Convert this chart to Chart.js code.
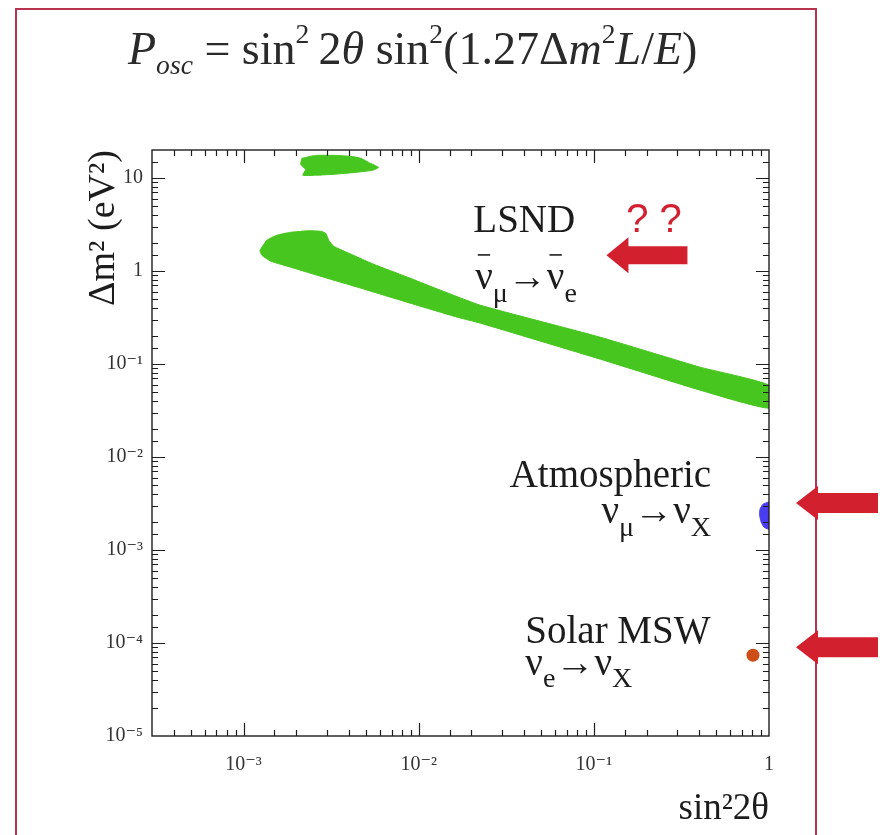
<!DOCTYPE html>
<html>
<head>
<meta charset="utf-8">
<script src="https://cdn.jsdelivr.net/npm/chart.js@4.4.1/dist/chart.umd.min.js"></script>
<style>
  html, body { margin: 0; padding: 0; background: #ffffff; }
  #wrap { position: relative; width: 883px; height: 835px; overflow: hidden; background: #ffffff; }
  #frame { position: absolute; left: 15px; top: 8px; width: 798px; height: 860px;
           border: 2px solid #b8344e; border-bottom: none; }
  #formula { position: absolute; left: 128px; top: 26px; height: 46px; line-height: 46px;
             font-family: 'Liberation Serif', 'DejaVu Serif', serif; font-size: 46px;
             color: #2a2a2a; white-space: nowrap; }
  #formula sub, #formula sup { font-size: 0.6em; line-height: 0; }
  #formula sub { vertical-align: -0.35em; }
  #formula sup { vertical-align: 0.75em; }
  canvas { position: absolute; left: 0; top: 0; }
</style>
</head>
<body>
<div id="wrap">
  <div id="frame"></div>
  <canvas id="chart" width="883" height="835"></canvas>
  <div id="formula"><i>P</i><sub><i>osc</i></sub> = sin<sup>2</sup>&#8201;2<i>θ</i> sin<sup>2</sup>(1.27Δ<i>m</i><sup>2</sup><i>L</i>/<i>E</i>)</div>
</div>
<script>
// Axis ticks: decade values and the labels printed under / beside them
const xTickValues = [1e-3, 1e-2, 1e-1, 1];
const xTickLabels = ['10⁻³', '10⁻²', '10⁻¹', '1'];
const yTickValues = [1e-5, 1e-4, 1e-3, 1e-2, 1e-1, 1, 10];
const yTickLabels = ['10⁻⁵', '10⁻⁴', '10⁻³', '10⁻²', '10⁻¹', '1', '10'];

// LSND allowed band: outline traced clockwise (sin²2θ, Δm² in eV²)
const lsndBandSin2 = [1.239e-3, 1.358e-3, 1.548e-3, 1.862e-3, 2.327e-3, 2.759e-3, 2.945e-3, 3.064e-3,
  3.272e-3, 3.88e-3, 5.534e-3, 8.645e-3, 1.333e-2, 2.254e-2, 0.1089, 0.4045, 1.0,
  1.0, 0.4045, 0.1089, 2.254e-2, 1.667e-2, 1.066e-2, 6.917e-3, 4.485e-3, 2.870e-3,
  1.862e-3, 1.431e-3, 1.271e-3, 1.239e-3];
const lsndBandDm2 = [1.671, 2.141, 2.423, 2.609, 2.708, 2.674, 2.545, 2.141,
  1.845, 1.590, 1.182, 0.857, 0.621, 0.428, 0.194, 0.0924, 0.0592,
  0.0335, 0.0523, 0.1126, 0.2746, 0.318, 0.408, 0.522, 0.669, 0.857,
  1.097, 1.273, 1.477, 1.671];

// LSND small island at large Δm²
const lsndIslandSin2 = [2.15e-3, 2.58e-3, 3.36e-3, 4.09e-3, 4.67e-3, 5.18e-3, 5.9e-3, 5.46e-3,
  4.37e-3, 3.36e-3, 2.58e-3, 2.18e-3, 2.26e-3, 2.12e-3, 2.15e-3];
const lsndIslandDm2 = [16.3, 17.5, 17.5, 17.1, 16.3, 14.7, 13.0, 12.1,
  11.5, 11.0, 10.7, 10.7, 12.4, 14.0, 16.3];

// Atmospheric region near maximal mixing
const atmSin2 = [0.988, 0.925, 0.889, 0.884, 0.902, 0.937, 0.988, 1.1, 1.1, 0.988];
const atmDm2 = [3.27e-3, 3.11e-3, 2.75e-3, 2.37e-3, 2.00e-3, 1.76e-3, 1.68e-3, 1.68e-3, 3.27e-3, 3.27e-3];

// Solar MSW solution
const solarSin2 = [0.81];
const solarDm2 = [7.4e-5];

// Values the side arrows point at
const atmArrowDm2 = 3.2e-3;
const solarArrowDm2 = 9.0e-5;

const SERIF = "'Liberation Serif', 'DejaVu Serif', serif";
const SANS = "'Liberation Sans', Arial, sans-serif";

const pts = (xs, ys) => xs.map((v, i) => ({ x: v, y: ys[i] }));
const sameDecade = (a, b) => Math.abs(Math.log10(a) - Math.log10(b)) < 1e-6;
const labelFor = (vals, labels) => (v) => {
  const i = vals.findIndex(t => sameDecade(t, v));
  return i >= 0 ? labels[i] : '';
};

// Box around the plot with inward tick marks on all four sides
const boxTicks = {
  id: 'boxTicks',
  afterDatasetsDraw(chart) {
    const { ctx, chartArea: a, scales: { x, y } } = chart;
    const isMajor = v => Math.abs(Math.log10(v) - Math.round(Math.log10(v))) < 1e-6;
    ctx.save();
    ctx.strokeStyle = '#1e1e1e';
    ctx.lineWidth = 1.4;
    ctx.strokeRect(a.left, a.top, a.right - a.left, a.bottom - a.top);
    ctx.lineWidth = 1.2;
    ctx.beginPath();
    x.ticks.forEach(t => {
      const v = t.value;
      if (v <= x.min * 1.0001 || v >= x.max * 0.9999) return;
      const p = Math.round(x.getPixelForValue(v)) + 0.5;
      const L = isMajor(v) ? 13 : 6;
      ctx.moveTo(p, a.bottom); ctx.lineTo(p, a.bottom - L);
      ctx.moveTo(p, a.top); ctx.lineTo(p, a.top + L);
    });
    y.ticks.forEach(t => {
      const v = t.value;
      if (v <= y.min * 1.0001 || v >= y.max * 0.9999) return;
      const p = Math.round(y.getPixelForValue(v)) + 0.5;
      const L = isMajor(v) ? 13 : 6;
      ctx.moveTo(a.left, p); ctx.lineTo(a.left + L, p);
      ctx.moveTo(a.right, p); ctx.lineTo(a.right - L, p);
    });
    ctx.stroke();
    ctx.restore();
  }
};

// Text with subscripts and overbars
function drawRich(ctx, segs, x, y, size, align) {
  const subSize = size * 0.72;
  let w = 0;
  segs.forEach(s => {
    ctx.font = `${s.sub ? subSize : size}px ${SERIF}`;
    s.w = ctx.measureText(s.t).width;
    w += s.w;
  });
  let cx = align === 'right' ? x - w : x;
  ctx.textAlign = 'left';
  ctx.textBaseline = 'alphabetic';
  segs.forEach(s => {
    ctx.font = `${s.sub ? subSize : size}px ${SERIF}`;
    ctx.fillText(s.t, cx, y + (s.sub ? size * 0.32 : 0));
    if (s.bar) ctx.fillRect(cx + s.w * 0.15, y - size * 0.9, s.w * 0.7, 1.6);
    cx += s.w;
  });
}

function leftArrow(ctx, tipX, tipY, headLen, headHalf, shaftLen, shaftHalf) {
  ctx.beginPath();
  ctx.moveTo(tipX, tipY);
  ctx.lineTo(tipX + headLen, tipY - headHalf);
  ctx.lineTo(tipX + headLen, tipY - shaftHalf);
  ctx.lineTo(tipX + shaftLen, tipY - shaftHalf);
  ctx.lineTo(tipX + shaftLen, tipY + shaftHalf);
  ctx.lineTo(tipX + headLen, tipY + shaftHalf);
  ctx.lineTo(tipX + headLen, tipY + headHalf);
  ctx.closePath();
  ctx.fill();
}

// Region names, reactions and pointers
const annotations = {
  id: 'annotations',
  afterDraw(chart) {
    const { ctx, chartArea: a, scales: { x, y } } = chart;
    const X = v => x.getPixelForValue(v);
    const Y = v => y.getPixelForValue(v);
    ctx.save();
    ctx.fillStyle = '#1c1c1c';
    drawRich(ctx, [{ t: 'LSND' }], X(0.0205), Y(2.61), 39, 'left');
    drawRich(ctx, [{ t: 'ν', bar: true }, { t: 'μ', sub: true }, { t: '→' }, { t: 'ν', bar: true }, { t: 'e', sub: true }],
      X(0.021), Y(0.637), 39, 'left');
    drawRich(ctx, [{ t: 'Atmospheric' }], X(0.467), Y(4.74e-3), 39, 'right');
    drawRich(ctx, [{ t: 'ν' }, { t: 'μ', sub: true }, { t: '→' }, { t: 'ν' }, { t: 'X', sub: true }],
      X(0.467), Y(1.95e-3), 39, 'right');
    drawRich(ctx, [{ t: 'Solar MSW' }], X(0.0406), Y(1.0e-4), 39, 'left');
    drawRich(ctx, [{ t: 'ν' }, { t: 'e', sub: true }, { t: '→' }, { t: 'ν' }, { t: 'X', sub: true }],
      X(0.0406), Y(4.53e-5), 39, 'left');

    ctx.fillStyle = '#d3202f';
    ctx.font = `40px ${SANS}`;
    ctx.textAlign = 'left';
    ctx.textBaseline = 'alphabetic';
    ctx.fillText('? ?', X(0.153), Y(2.61));
    leftArrow(ctx, X(0.118), Y(1.48), 22, 18, 81, 9);
    leftArrow(ctx, a.right + 27, Y(atmArrowDm2), 22, 17, 82, 10);
    leftArrow(ctx, a.right + 27, Y(solarArrowDm2), 22, 17, 82, 10);
    ctx.restore();
  }
};

const green = '#47c61f';
new Chart(document.getElementById('chart'), {
  type: 'scatter',
  data: {
    datasets: [
      { label: 'LSND', data: pts(lsndBandSin2, lsndBandDm2), showLine: true, fill: 'shape',
        backgroundColor: green, borderColor: green, borderWidth: 1, pointRadius: 0, tension: 0.15 },
      { label: 'LSND island', data: pts(lsndIslandSin2, lsndIslandDm2), showLine: true, fill: 'shape',
        backgroundColor: green, borderColor: green, borderWidth: 1, pointRadius: 0, tension: 0.15 },
      { label: 'Atmospheric', data: pts(atmSin2, atmDm2), showLine: true, fill: 'shape',
        backgroundColor: '#4a3cf0', borderColor: '#4a3cf0', borderWidth: 1, pointRadius: 0, tension: 0.2 },
      { label: 'Solar MSW', data: pts(solarSin2, solarDm2), showLine: false,
        pointRadius: 6.5, pointBackgroundColor: '#cf4e17', pointBorderWidth: 0 }
    ]
  },
  options: {
    responsive: false,
    animation: false,
    events: [],
    layout: { padding: { top: 150, right: 114, left: 0, bottom: 0 } },
    plugins: { legend: { display: false }, tooltip: { enabled: false } },
    scales: {
      x: {
        type: 'logarithmic', position: 'bottom', min: 3e-4, max: 1,
        afterFit(s) { s.height = 99; },
        grid: { display: false, drawTicks: false },
        border: { display: false },
        ticks: { autoSkip: false, maxRotation: 0, padding: 17, color: '#333333',
                 font: { family: SERIF, size: 20 }, callback: labelFor(xTickValues, xTickLabels) },
        title: { display: true, text: 'sin²2θ', align: 'end', color: '#1c1c1c',
                 font: { family: SERIF, size: 37 }, padding: { top: 0, bottom: 4 } }
      },
      y: {
        type: 'logarithmic', position: 'left', min: 1e-5, max: 20,
        afterFit(s) { s.width = 152; },
        grid: { display: false, drawTicks: false },
        border: { display: false },
        ticks: { autoSkip: false, padding: 9, color: '#333333',
                 font: { family: SERIF, size: 20 }, callback: labelFor(yTickValues, yTickLabels) },
        title: { display: true, text: 'Δm² (eV²)', align: 'end', color: '#1c1c1c',
                 font: { family: SERIF, size: 38 }, padding: { top: 81, bottom: 0 } }
      }
    }
  },
  plugins: [boxTicks, annotations]
});
</script>
</body>
</html>
